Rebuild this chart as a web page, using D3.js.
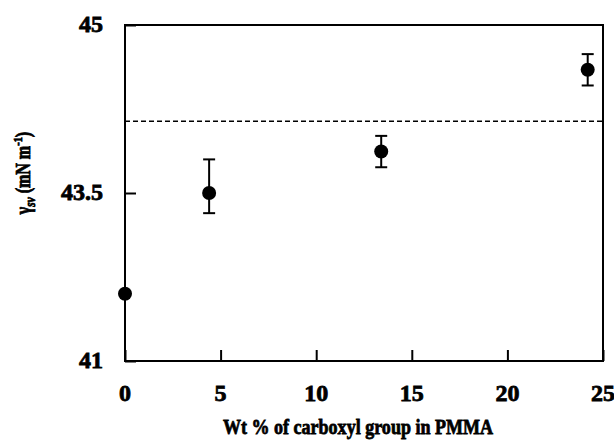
<!DOCTYPE html>
<html>
<head>
<meta charset="utf-8">
<script src="https://cdn.jsdelivr.net/npm/d3@7"></script>
<style>
  body { margin: 0; background: #fff; }
  text { font-family: "Liberation Serif", "DejaVu Serif", serif; font-weight: bold; fill: #000; stroke: #000; stroke-width: 0.8px; }
</style>
</head>
<body>
<div id="chart"></div>
<script>
// data
var carboxyl = [0, 4.4, 13.4, 24.2];
var gammaSv = [42.0, 43.5, 43.87, 44.6];
var gammaErr = [0, 0.3, 0.14, 0.14];
var pmmaLine = 44.14;

var xTicks = [0, 5, 10, 15, 20, 25];
var yTicks = [41, 43.5, 45];

var svgWidth = 614;
var svgHeight = 441;
var margin = { top: 25, right: 11, bottom: 80, left: 125 };
var width = svgWidth - margin.left - margin.right;
var height = svgHeight - margin.top - margin.bottom;

var svg = d3.select("#chart")
  .append("svg")
  .attr("width", svgWidth)
  .attr("height", svgHeight);

var chartGroup = svg.append("g")
  .attr("transform", `translate(${margin.left}, ${margin.top})`);

var xScale = d3.scaleLinear()
  .domain([0, 25])
  .range([0, width]);

// the original axis puts 43.5 in the middle of 41..45
var yScale = d3.scaleLinear()
  .domain([41, 43.5, 45])
  .range([height, height / 2, 0]);

// axes: ticks point inward
var xAxis = d3.axisTop(xScale).tickValues(xTicks).tickSize(11).tickFormat("");
chartGroup.append("g")
  .attr("transform", `translate(0, ${height})`)
  .call(xAxis)
  .call(g => g.select(".domain").remove())
  .call(g => g.selectAll("line").attr("stroke-width", 2));

var yAxis = d3.axisRight(yScale).tickValues(yTicks).tickSize(11).tickFormat("");
chartGroup.append("g")
  .call(yAxis)
  .call(g => g.select(".domain").remove())
  .call(g => g.selectAll("line").attr("stroke-width", 2));

// frame
chartGroup.append("rect")
  .attr("width", width)
  .attr("height", height)
  .attr("fill", "none")
  .attr("stroke", "#000")
  .attr("stroke-width", 2);

// tick labels
chartGroup.selectAll(".xLabel")
  .data(xTicks)
  .enter()
  .append("text")
  .attr("x", d => xScale(d))
  .attr("y", height + 40)
  .attr("text-anchor", "middle")
  .style("font-size", "24px")
  .text(d => d);

chartGroup.selectAll(".yLabel")
  .data(yTicks)
  .enter()
  .append("text")
  .attr("x", -22)
  .attr("y", d => yScale(d) + 7)
  .attr("text-anchor", "end")
  .style("font-size", "24px")
  .text(d => d);

// axis titles (the scan's lettering is tall and narrow)
chartGroup.append("text")
  .attr("transform", `translate(${width / 2 - 6}, ${height + 73}) scale(0.82, 1)`)
  .attr("text-anchor", "middle")
  .style("font-size", "22px")
  .text("Wt % of carboxyl group in PMMA");

var yTitle = chartGroup.append("text")
  .attr("transform", `translate(${-95}, ${height / 2 - 20}) rotate(-90) scale(0.8, 1)`)
  .attr("text-anchor", "middle")
  .style("font-size", "20px");
yTitle.append("tspan").text("γ");
yTitle.append("tspan").attr("dy", 5).style("font-size", "14px").style("font-style", "italic").text("sv");
yTitle.append("tspan").attr("dy", -5).text(" (mN m");
yTitle.append("tspan").attr("dy", -8).style("font-size", "13px").text("-1");
yTitle.append("tspan").attr("dy", 8).text(")");

// dashed reference line
chartGroup.append("line")
  .attr("x1", 0)
  .attr("x2", width)
  .attr("y1", yScale(pmmaLine))
  .attr("y2", yScale(pmmaLine))
  .attr("stroke", "#000")
  .attr("stroke-width", 1.6)
  .attr("stroke-dasharray", "5,3");

// error bars
var points = carboxyl.map((d, i) => ({ x: d, y: gammaSv[i], e: gammaErr[i] }));
var bars = chartGroup.selectAll(".err")
  .data(points.filter(d => d.e > 0))
  .enter()
  .append("g");

bars.append("line")
  .attr("x1", d => xScale(d.x))
  .attr("x2", d => xScale(d.x))
  .attr("y1", d => yScale(d.y - d.e))
  .attr("y2", d => yScale(d.y + d.e))
  .attr("stroke", "#000")
  .attr("stroke-width", 2);

[-1, 1].forEach(function(s) {
  bars.append("line")
    .attr("x1", d => xScale(d.x) - 6)
    .attr("x2", d => xScale(d.x) + 6)
    .attr("y1", d => yScale(d.y + s * d.e))
    .attr("y2", d => yScale(d.y + s * d.e))
    .attr("stroke", "#000")
    .attr("stroke-width", 2);
});

// points
chartGroup.selectAll("circle")
  .data(points)
  .enter()
  .append("circle")
  .attr("cx", d => xScale(d.x))
  .attr("cy", d => yScale(d.y))
  .attr("r", 7)
  .attr("fill", "#000");
</script>
</body>
</html>
